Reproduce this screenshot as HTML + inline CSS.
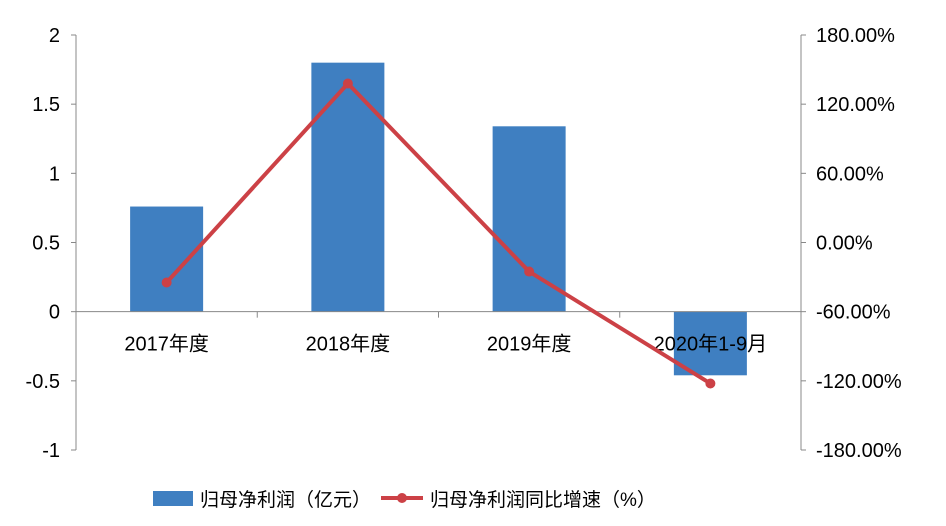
<!DOCTYPE html>
<html><head><meta charset="utf-8"><style>
body{margin:0;background:#fff;}
svg{display:block;font-family:"Liberation Sans","Noto Sans CJK SC",sans-serif;}
</style></head><body>
<svg id="c" width="946" height="526"></svg>
<script>
const categories=["2017年度","2018年度","2019年度","2020年1-9月"];
const profitValues=[0.76,1.80,1.34,-0.46];
const growthValues=[-34.7,137.9,-25.2,-122.3];
const leftTicks=[2,1.5,1,0.5,0,-0.5,-1];
const leftTickLabels=["2","1.5","1","0.5","0","-0.5","-1"];
const rightTicks=[180,120,60,0,-60,-120,-180];
const rightTickLabels=["180.00%","120.00%","60.00%","0.00%","-60.00%","-120.00%","-180.00%"];
const svg=document.getElementById('c');
const NS='http://www.w3.org/2000/svg';
const X0=76,X1=801,Y0=35,Y1=450;
const yL=v=>Y0+(2-v)/3*(Y1-Y0);
const yR=v=>Y0+(180-v)/360*(Y1-Y0);
const bw=(X1-X0)/categories.length;
const xc=i=>X0+bw*(i+0.5);
function mk(t,a,p){const e=document.createElementNS(NS,t);for(const k in a)e.setAttribute(k,a[k]);(p||svg).appendChild(e);return e;}
let e;
e=mk('line',{x1:X0,y1:Y0,x2:X0,y2:Y1,stroke:'#888'});


e=mk('line',{x1:X1,y1:Y0,x2:X1,y2:Y1,stroke:'#888'});


leftTicks.forEach((v,i)=>{
  mk('line',{x1:X0-5,y1:yL(v),x2:X0,y2:yL(v),stroke:'#888'});
  e=mk('text',{x:X0-16,y:yL(v)+7,'text-anchor':'end','font-size':20,fill:'#000'});
  e.textContent=leftTickLabels[i];
  
  
});
rightTicks.forEach((v,i)=>{
  mk('line',{x1:X1,y1:yR(v),x2:X1+5,y2:yR(v),stroke:'#888'});
  e=mk('text',{x:X1+15,y:yR(v)+7,'font-size':20,fill:'#000'});
  e.textContent=rightTickLabels[i];
  
  
});
profitValues.forEach((v,i)=>{
  const y=Math.min(yL(v),yL(0)),h=Math.abs(yL(v)-yL(0));
  e=mk('rect',{x:xc(i)-36.5,y:y,width:73,height:h,fill:'#3f7fc1'});
  
  
});
e=mk('line',{x1:X0,y1:yL(0),x2:X1,y2:yL(0),stroke:'#888'});


for(let i=0;i<=categories.length;i++)mk('line',{x1:X0+bw*i,y1:yL(0),x2:X0+bw*i,y2:yL(0)+6,stroke:'#888'});
categories.forEach((c,i)=>{
  e=mk('text',{x:xc(i),y:yL(0)+39,'text-anchor':'middle','font-size':20,fill:'#000'});
  e.textContent=c;
  
  
});
e=mk('polyline',{points:growthValues.map((v,i)=>xc(i)+','+yR(v)).join(' '),fill:'none',stroke:'#cc4146','stroke-width':4,'stroke-linejoin':'round'});


growthValues.forEach((v,i)=>{
  e=mk('circle',{cx:xc(i),cy:yR(v),r:5,fill:'#cc4146'});
  
  
});
e=mk('rect',{x:153,y:491,width:40,height:15,fill:'#3f7fc1'});


e=mk('text',{x:200,y:506,'font-size':19,fill:'#000'});
e.textContent='归母净利润（亿元）';


e=mk('line',{x1:381,y1:498,x2:423,y2:498,stroke:'#cc4146','stroke-width':4});


mk('circle',{cx:402,cy:498,r:5,fill:'#cc4146'});
e=mk('text',{x:430,y:506,'font-size':19,fill:'#000'});
e.textContent='归母净利润同比增速（%）';


</script>
</body></html>
